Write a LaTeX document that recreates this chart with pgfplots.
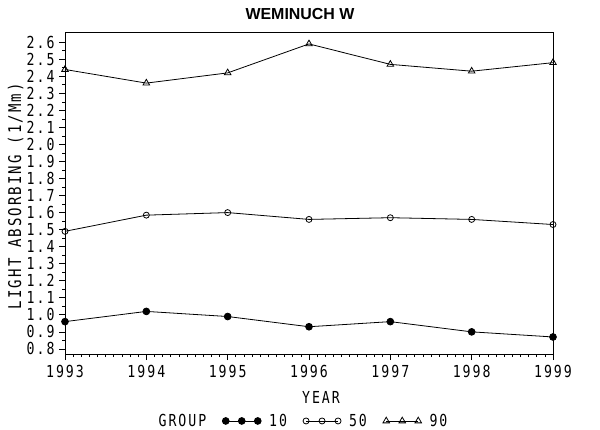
\documentclass[border=0pt]{standalone}
\usepackage{fontspec}
\setmainfont{Liberation Sans}
\newfontfamily\sas[FakeStretch=0.8,LetterSpace=12]{DejaVu Sans Mono}
\newcommand\sasf{\sas\fontsize{16.6}{16.6}\selectfont}
\newcommand\sasl{\sas\fontsize{17.6}{17.6}\selectfont}
\usepackage{pgfplots}
\pgfplotsset{compat=1.18}
\begin{document}
\begin{tikzpicture}
\useasboundingbox (-65bp,-76bp) rectangle (535bp,354bp);
\begin{axis}[
  at={(0,0)}, anchor=south west,
  scale only axis, width=488bp, height=322bp,
  xmin=1993, xmax=1999, ymin=0.77, ymax=2.66,
  xtick={1993,1994,1995,1996,1997,1998,1999},
  ytick={0.8,0.9,1.0,1.1,1.2,1.3,1.4,1.5,1.6,1.7,1.8,1.9,2.0,2.1,2.2,2.3,2.4,2.5,2.6},
  minor x tick num=9, minor y tick num=1,
  tick align=outside, xtick pos=left, ytick pos=left,
  major tick length=6bp, minor tick length=3bp,
  tick style={black, line width=0.7pt},
  axis line style={line width=0.8pt},
  /pgf/number format/assume math mode=true,
  /pgf/number format/1000 sep={},
  xticklabel style={font=\sasf, yshift=-2bp},
  yticklabel style={font=\sasf, xshift=-1bp,
    /pgf/number format/.cd, fixed, fixed zerofill, precision=1},
  title={WEMINUCH W},
  title style={font=\bfseries\fontsize{16}{16}\selectfont, at={(axis description cs:0.5,1)}, yshift=12bp, anchor=center, xshift=-9bp},
  xlabel={YEAR},
  xlabel style={font=\sasf, at={(axis description cs:0.5246,-0.135)}, anchor=center},
  ylabel={LIGHT~ABSORBING~(1/Mm)},
  ylabel style={font=\sasl, at={(axis description cs:-0.101,0.49)}, anchor=center},
  clip=false,
  legend columns=4,
  legend style={draw=none, fill=none, at={(axis description cs:0.4816,-0.208)}, anchor=center,
    font=\sasf, /tikz/every even column/.append style={column sep=14bp},
    /tikz/every odd column/.append style={column sep=6bp}},
  legend image code/.code={\draw[#1] plot coordinates {(0bp,0bp)(16bp,0bp)(32bp,0bp)};},
  every axis plot/.append style={black, line width=0.8pt},
]
\addlegendimage{empty legend}
\addlegendentry{GROUP}
\addplot[mark=*, mark size=3.4bp, mark options={fill=black}] coordinates {
(1993,0.96) (1994,1.02) (1995,0.99) (1996,0.93) (1997,0.96) (1998,0.90) (1999,0.87)};
\addlegendentry{10}
\addplot[mark=o, mark size=3bp] coordinates {
(1993,1.49) (1994,1.585) (1995,1.60) (1996,1.56) (1997,1.57) (1998,1.56) (1999,1.53)};
\addlegendentry{50}
\addplot[mark=triangle, mark size=3.8bp] coordinates {
(1993,2.44) (1994,2.36) (1995,2.42) (1996,2.59) (1997,2.47) (1998,2.43) (1999,2.48)};
\addlegendentry{90}
\end{axis}
\end{tikzpicture}
\end{document}
